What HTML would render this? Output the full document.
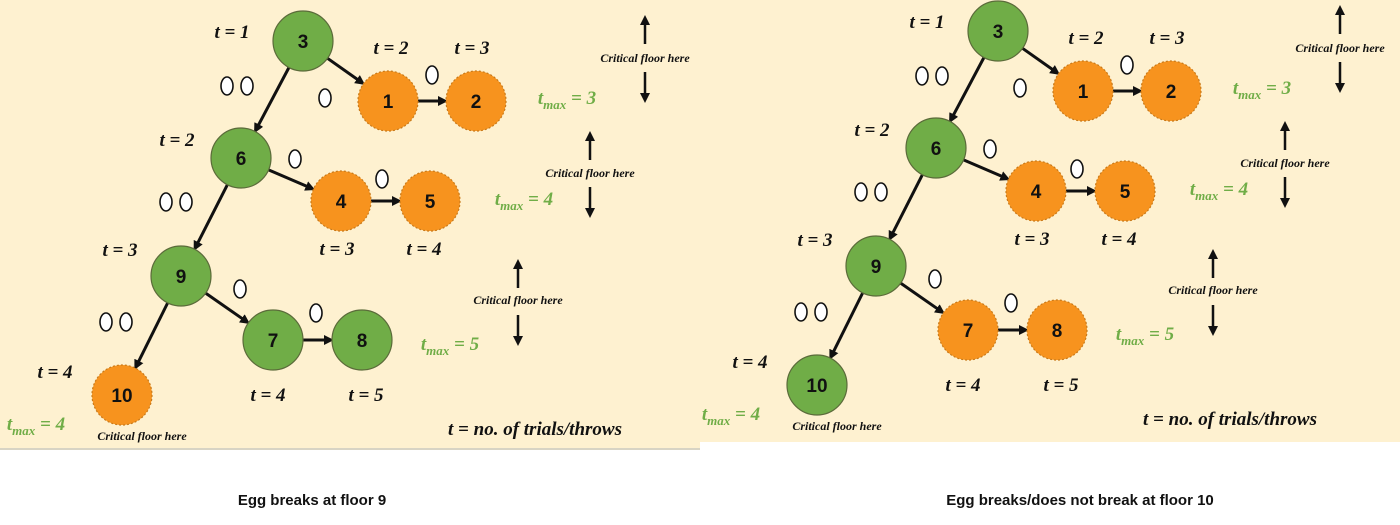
<!DOCTYPE html>
<html><head><meta charset="utf-8"><style>
html,body{margin:0;padding:0;background:#fff;width:1400px;height:525px;overflow:hidden}
svg{display:block}
.tl{font-family:"Liberation Serif",serif;font-style:italic;font-weight:bold;font-size:19px;fill:#111}
.tm{font-family:"Liberation Serif",serif;font-style:italic;font-weight:bold;font-size:19px;fill:#70ad47}
.cf{font-family:"Liberation Serif",serif;font-style:italic;font-weight:bold;font-size:12px;fill:#111}
.nn{font-family:"Liberation Sans",sans-serif;font-weight:bold;font-size:19px;fill:#111}
.cap{font-family:"Liberation Sans",sans-serif;font-weight:bold;font-size:15px;fill:#111}
</style></head><body>
<svg id="s" width="1400" height="525" xmlns="http://www.w3.org/2000/svg">
<defs><marker id="ah" markerWidth="10" markerHeight="10" refX="7" refY="5" orient="auto" markerUnits="userSpaceOnUse"><path d="M0,0 L10,5 L0,10 z" fill="#111"/></marker></defs>
<rect x="0" y="0" width="700" height="448" fill="#fef1d0"/>
<line x1="0" y1="449" x2="700" y2="449" stroke="#d8d4c4" stroke-width="2"/>
<text class="cap" x="312" y="505" text-anchor="middle">Egg breaks at floor 9</text>
<text class="cap" x="1080" y="505" text-anchor="middle">Egg breaks/does not break at floor 10</text>
</svg>
<script>
const floors=[3,1,2,6,4,5,9,7,8,10];
const nodeX=[303,388,476,241,341,430,181,273,362,122];
const nodeY=[41,101,101,158,201,201,276,340,340,395];
const leftColors=['g','o','o','g','o','o','g','g','g','o'];
const rightColors=['g','o','o','g','o','o','g','o','o','g'];
const edges=[[0,1],[1,2],[0,3],[3,4],[4,5],[3,6],[6,7],[7,8],[6,9]];
const NS='http://www.w3.org/2000/svg';
const svg=document.getElementById('s');
function mk(tag,attrs,parent){const e=document.createElementNS(NS,tag);for(const k in attrs)e.setAttribute(k,attrs[k]);(parent||svg).appendChild(e);return e;}
function txt(x,y,cls,str,g,anchor){const t=mk('text',{x:x,y:y,class:cls,'text-anchor':anchor||'middle'},g);t.textContent=str;return t;}
function egg(x,y,g){const e=mk('ellipse',{cx:x,cy:y,rx:6,ry:9,fill:'#fff',stroke:'#111','stroke-width':1.6},g);

}
function tmax(x,y,v,g){const t=mk('text',{x:x,y:y,class:'tm','text-anchor':'middle'},g);


const a=document.createElementNS(NS,'tspan');a.textContent='t';t.appendChild(a);
const b=document.createElementNS(NS,'tspan');b.setAttribute('font-size','13');b.setAttribute('dy','5');b.textContent='max';t.appendChild(b);
const c=document.createElementNS(NS,'tspan');c.setAttribute('dy','-5');c.textContent=' = '+v;t.appendChild(c);}
function crit(x,y1,y2,y3,g){
const l1=mk('line',{x1:x,y1:y1+26,x2:x,y2:y1,stroke:'#111','stroke-width':2.5,'marker-end':'url(#ah)'},g);


const l2=mk('line',{x1:x,y1:y3-28,x2:x,y2:y3,stroke:'#111','stroke-width':2.5,'marker-end':'url(#ah)'},g);


const t=txt(x,y2,'cf','Critical floor here',g);

}
function panel(dx,dy,colors,name){
const g=mk('g',{transform:'translate('+dx+','+dy+')'});


edges.forEach(([a,b])=>{const x1=nodeX[a],y1=nodeY[a],x2=nodeX[b],y2=nodeY[b];
const d=Math.hypot(x2-x1,y2-y1),ux=(x2-x1)/d,uy=(y2-y1)/d;
const l=mk('line',{x1:x1+ux*30,y1:y1+uy*30,x2:x2-ux*31,y2:y2-uy*31,stroke:'#111','stroke-width':3,'marker-end':'url(#ah)'},g);

});
floors.forEach((f,i)=>{const c=mk('circle',{cx:nodeX[i],cy:nodeY[i],r:30,fill:colors[i]=='g'?'#70ad47':'#f7931e',stroke:colors[i]=='g'?'#5b6b3a':'#c87a1a','stroke-width':1.2,'stroke-dasharray':colors[i]=='g'?'':'2,2'},g);


const t=txt(nodeX[i],nodeY[i]+7,'nn',String(f),g);

});
const tl=[[232,38,1],[391,54,2],[472,54,3],[177,146,2],[337,255,3],[424,255,4],[120,256,3],[55,378,4],[268,401,4],[366,401,5]];
tl.forEach(([x,y,v])=>{const t=txt(x,y,'tl','t = '+v,g);

});
[[227,86],[247,86],[166,202],[186,202],[106,322],[126,322],[325,98],[432,75],[295,159],[382,179],[240,289],[316,313]].forEach(([x,y])=>egg(x,y,g));
tmax(567,104,3,g);tmax(524,205,4,g);tmax(450,350,5,g);tmax(36,430,4,g);
crit(645,18,62,100,g);crit(590,134,177,215,g);crit(518,262,304,343,g);
const c=txt(142,440,'cf','Critical floor here',g);


const n=txt(535,435,'tl','t = no. of trials/throws',g);
n.setAttribute('font-size','20');


return g;}
panel(0,0,leftColors,'left-diagram');
const rb=mk('rect',{x:700,y:0,width:700,height:442,fill:'#fef1d0'});


panel(695,-10,rightColors,'right-diagram');
</script>
</body></html>
